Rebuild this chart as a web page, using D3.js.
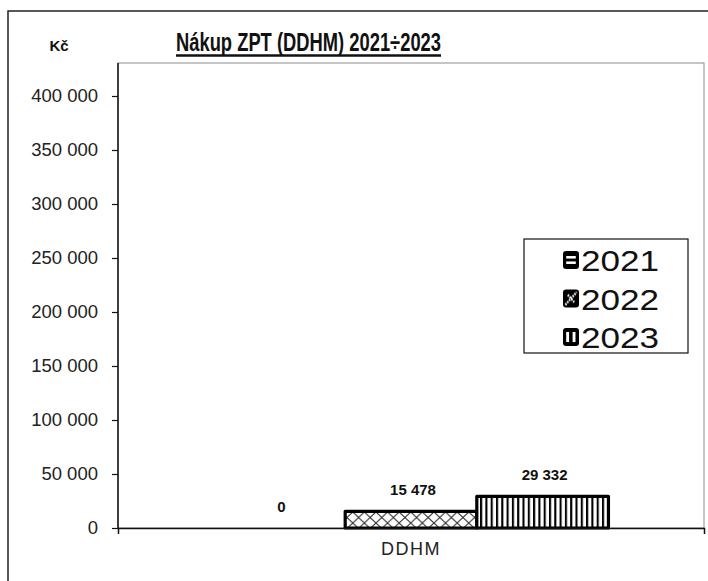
<!DOCTYPE html>
<html>
<head>
<meta charset="utf-8">
<script src="https://cdn.jsdelivr.net/npm/d3@7"></script>
<style>
  body { margin: 0; background: #fff; }
  svg text { font-family: "Liberation Sans", Arial, sans-serif; }
</style>
</head>
<body>
<div class="chart"></div>
<script>
// data
var categories = ["DDHM"];
var years = ["2021", "2022", "2023"];
var values2021 = [0];
var values2022 = [15478];
var values2023 = [29332];
var yTicks = [0, 50000, 100000, 150000, 200000, 250000, 300000, 350000, 400000];
var seriesValues = [values2021, values2022, values2023];
var patternIds = ["p2021", "p2022", "p2023"];

var svgWidth = 708;
var svgHeight = 581;
var plot = {left: 118, right: 704, top: 63, bottom: 528};

var svg = d3.select(".chart")
    .append("svg")
    .attr("width", svgWidth)
    .attr("height", svgHeight);

// fill patterns
var defs = svg.append("defs");
var p1 = defs.append("pattern").attr("id", "p2021")
    .attr("patternUnits", "userSpaceOnUse").attr("width", 8).attr("height", 5.5)
    .attr("y", 1);
p1.append("rect").attr("width", 8).attr("height", 5.5).attr("fill", "#000");
p1.append("rect").attr("y", 1.5).attr("width", 8).attr("height", 2.2).attr("fill", "#fff");

var p2 = defs.append("pattern").attr("id", "p2022")
    .attr("patternUnits", "userSpaceOnUse").attr("width", 11.6).attr("height", 11)
    .attr("y", 512);
p2.append("rect").attr("width", 11.6).attr("height", 11).attr("fill", "#fff");
p2.append("path").attr("d", "M0,0L11.6,11M0,11L11.6,0")
    .attr("stroke", "#333").attr("stroke-width", 1.1);

var p3 = defs.append("pattern").attr("id", "p2023")
    .attr("patternUnits", "userSpaceOnUse").attr("width", 5.3).attr("height", 10)
    .attr("x", 1.5);
p3.append("rect").attr("width", 5.3).attr("height", 10).attr("fill", "#fff");
p3.append("rect").attr("width", 2.1).attr("height", 10).attr("fill", "#000");

// dark legend swatch patterns
var s2 = defs.append("pattern").attr("id", "s2022")
    .attr("patternUnits", "objectBoundingBox").attr("width", 1).attr("height", 1)
    .attr("patternContentUnits", "objectBoundingBox");
s2.append("rect").attr("width", 1).attr("height", 1).attr("fill", "#000");
s2.append("path").attr("d", "M0.15,0.85L0.85,0.15M0.3,0.3L0.7,0.7")
    .attr("stroke", "#fff").attr("stroke-width", 0.13).attr("stroke-dasharray", "0.1,0.06");
var s3 = defs.append("pattern").attr("id", "s2023")
    .attr("patternUnits", "objectBoundingBox").attr("width", 1).attr("height", 1)
    .attr("patternContentUnits", "objectBoundingBox");
s3.append("rect").attr("width", 1).attr("height", 1).attr("fill", "#000");
s3.append("rect").attr("x", 0.2).attr("y", 0.22).attr("width", 0.18).attr("height", 0.56).attr("fill", "#fff");
s3.append("rect").attr("x", 0.6).attr("y", 0.22).attr("width", 0.18).attr("height", 0.56).attr("fill", "#fff");
var s1 = defs.append("pattern").attr("id", "s2021")
    .attr("patternUnits", "objectBoundingBox").attr("width", 1).attr("height", 1)
    .attr("patternContentUnits", "objectBoundingBox");
s1.append("rect").attr("width", 1).attr("height", 1).attr("fill", "#000");
s1.append("rect").attr("x", 0.2).attr("y", 0.28).attr("width", 0.6).attr("height", 0.14).attr("fill", "#fff");
s1.append("rect").attr("x", 0.2).attr("y", 0.58).attr("width", 0.6).attr("height", 0.14).attr("fill", "#fff");
var swatchIds = ["s2021", "s2022", "s2023"];

// outer frame
svg.append("rect")
    .attr("x", 8).attr("y", 11)
    .attr("width", 720).attr("height", 600)
    .attr("fill", "none").attr("stroke", "#222").attr("stroke-width", 1.5);

// plot area
svg.append("rect")
    .attr("x", plot.left).attr("y", plot.top)
    .attr("width", plot.right - plot.left).attr("height", plot.bottom - plot.top)
    .attr("fill", "#fff").attr("stroke", "#8c8c8c").attr("stroke-width", 1);

var fmt = d3.formatLocale({decimal: ",", thousands: " ", grouping: [3], currency: ["", " Kč"]}).format(",d");

var y = d3.scaleLinear().domain([0, 400000]).range([plot.bottom, 96]);
var x0 = d3.scaleBand().domain(categories).range([plot.left, plot.right]).paddingOuter(0.242);
var x1 = d3.scaleBand().domain(years).range([0, x0.bandwidth()]);

// y axis
var yAxis = svg.append("g")
    .attr("transform", "translate(" + plot.left + ",0)")
    .call(d3.axisLeft(y).tickValues(yTicks).tickFormat(fmt).tickSize(6).tickSizeOuter(0).tickPadding(14));
yAxis.select(".domain").remove();
yAxis.selectAll("line").attr("stroke", "#111").attr("stroke-width", 1.2);
yAxis.selectAll("text").attr("font-size", "18.5px").attr("fill", "#222")
    .attr("font-family", "Liberation Sans, Arial, sans-serif");
svg.append("line")
    .attr("x1", plot.left).attr("x2", plot.left)
    .attr("y1", plot.top).attr("y2", plot.bottom)
    .attr("stroke", "#111").attr("stroke-width", 1.5);

// bars
var groups = svg.selectAll(".grp")
    .data(categories)
    .enter().append("g")
    .attr("class", "grp")
    .attr("transform", function(d) { return "translate(" + x0(d) + ",0)"; });

groups.each(function(cat, ci) {
    var g = d3.select(this);
    var rows = years.map(function(yr, i) { return {year: yr, value: seriesValues[i][ci], pid: patternIds[i]}; });
    g.selectAll("rect.bar")
        .data(rows.filter(function(r) { return r.value > 0; }))
        .enter().append("rect")
        .attr("class", "bar")
        .attr("x", function(r) { return x1(r.year); })
        .attr("y", function(r) { return y(r.value); })
        .attr("width", x1.bandwidth())
        .attr("height", function(r) { return y(0) - y(r.value); })
        .attr("fill", function(r) { return "url(#" + r.pid + ")"; })
        .attr("stroke", "#000")
        .attr("stroke-width", 3.2)
        .attr("stroke-linejoin", "round");
    g.selectAll("text.val")
        .data(rows)
        .enter().append("text")
        .attr("class", "val")
        .attr("x", function(r) { return x1(r.year) + x1.bandwidth() / 2 + 2; })
        .attr("y", function(r) { return y(r.value) - 16; })
        .attr("text-anchor", "middle")
        .attr("font-family", "DejaVu Sans, sans-serif")
        .attr("font-weight", "bold")
        .attr("font-size", "15px")
        .attr("fill", "#111")
        .text(function(r) { return fmt(r.value); });
});

// x axis
var xAxis = svg.append("g")
    .attr("transform", "translate(0," + plot.bottom + ")")
    .call(d3.axisBottom(x0).tickSizeInner(0).tickSizeOuter(6).tickPadding(14));
xAxis.select(".domain").attr("stroke", "#111").attr("stroke-width", 1.5);
xAxis.selectAll("text").attr("font-size", "18px").attr("fill", "#222")
    .attr("letter-spacing", "1.5px")
    .attr("font-family", "Liberation Sans, Arial, sans-serif");

// title
svg.append("text")
    .attr("x", 176).attr("y", 51)
    .attr("font-size", "26.5px")
    .attr("font-weight", "bold")
    .attr("fill", "#111")
    .attr("textLength", 265)
    .attr("lengthAdjust", "spacingAndGlyphs")
    .text("Nákup ZPT (DDHM) 2021÷2023");
svg.append("line")
    .attr("x1", 176).attr("x2", 441)
    .attr("y1", 55.5).attr("y2", 55.5)
    .attr("stroke", "#111").attr("stroke-width", 2.5);

svg.append("text")
    .attr("x", 59).attr("y", 51)
    .attr("text-anchor", "middle")
    .attr("font-size", "15px")
    .attr("font-weight", "bold")
    .attr("fill", "#111")
    .text("Kč");

// legend
var legend = svg.append("g").attr("transform", "translate(524,239)");
legend.append("rect")
    .attr("width", 164).attr("height", 114)
    .attr("fill", "#fff").attr("stroke", "#111").attr("stroke-width", 1.2);
var items = legend.selectAll(".item")
    .data(years)
    .enter().append("g")
    .attr("class", "item")
    .attr("transform", function(d, i) { return "translate(0," + (21 + i * 38.5) + ")"; });
items.append("rect")
    .attr("x", 39).attr("y", -9)
    .attr("width", 16).attr("height", 18)
    .attr("rx", 3)
    .attr("fill", function(d, i) { return "url(#" + swatchIds[i] + ")"; });
items.append("text")
    .attr("x", 57).attr("y", 11)
    .attr("font-size", "30px")
    .attr("fill", "#111")
    .attr("textLength", 78)
    .attr("lengthAdjust", "spacingAndGlyphs")
    .text(function(d) { return d; });
</script>
</body>
</html>
